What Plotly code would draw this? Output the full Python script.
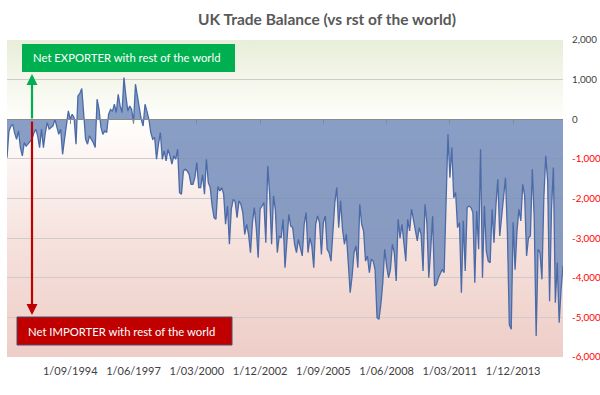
import base64
import pandas as pd
import plotly.graph_objects as go

# ---------------- data ----------------
start_month = "1991-12-01"
trade_balance = [
    -970, -300, -180, -130, -350, -505, -295, -715, -925, -590, -680, -620,
    -550, -505, -350, -250, -420, -715, -250, -715, -335, -85, -250, -210,
    -170, 0, -170, -380, -250, -885, -505, -85, 210, 0, 125, 40,
    -630, 590, 650, 775, 0, -505, -630, -420, -505, -590, -715, 505,
    250, -200, -380, -295, -335, 125, 250, 200, 380, 170, 630, 335,
    170, 1050, 590, 210, 335, 250, -85, 885, 590, 250, 0, -170,
    380, 200, 0, -335, -505, -460, -1010, -630, -335, -1010, -800, -1050,
    -760, -925, -1135, -925, -1010, -760, -1850, -1890, -1305, -1260, -1305, -1390,
    -1640, -1640, -1475, -1095, -1725, -1725, -1400, -1890, -1010, -1600, -1725, -2190,
    -2485, -2525, -1700, -1810, -1725, -1890, -2650, -2190, -3155, -2270, -2020, -2080,
    -2485, -2060, -2145, -2355, -2905, -2650, -2905, -3365, -2610, -2230, -2735, -3495,
    -2270, -2190, -2105, -3115, -1180, -1890, -3155, -1935, -2300, -3365, -2945, -2990,
    -2525, -3745, -2945, -2400, -2695, -2735, -3155, -3365, -3030, -3280, -3450, -2650,
    -2355, -3365, -2990, -3200, -3745, -2650, -2440, -2610, -3410, -2610, -2440, -3280,
    -3365, -3580, -2780, -2100, -1725, -2735, -2060, -2780, -3155, -2900, -3620, -4375,
    -3955, -3365, -3200, -3745, -2145, -2650, -2820, -3580, -3450, -3870, -3535, -3580,
    -3800, -5010, -5050, -4670, -4125, -3280, -3700, -4000, -3790, -3155, -3365, -4080,
    -2525, -3000, -2650, -3115, -3580, -2525, -2820, -2270, -2525, -2735, -3070, -2735,
    -2905, -3830, -2145, -2610, -4000, -3280, -2450, -4210, -4170, -4000, -3900, -3790,
    -3870, -2100, -380, -1475, -715, -1980, -1850, -2735, -2610, -4375, -2565, -3830,
    -2230, -2190, -2230, -2355, -4125, -2315, -3280, -760, -4000, -2190, -3325, -3580,
    -3620, -2270, -3115, -2190, -1515, -2945, -2440, -1850, -1475, -2860, -5180, -5300,
    -2600, -3800, -2820, -2270, -2565, -1640, -1935, -3450, -2990, -2945, -1260, -2525,
    -5470, -3280, -3365, -4040, -2000, -925, -1555, -4590, -2270, -1220, -4630, -3620,
    -5135, -4290, -3700,
]
x_tick_labels = ["1/09/1994", "1/06/1997", "1/03/2000", "1/12/2002",
                 "1/09/2005", "1/06/2008", "1/03/2011", "1/12/2013"]
y_tick_values = [2000, 1000, 0, -1000, -2000, -3000, -4000, -5000, -6000]

title_text = "UK Trade Balance (vs rst of the world)"
exporter_text = "Net EXPORTER with rest of the world"
importer_text = "Net IMPORTER with rest of the world"

months = pd.date_range(start_month, periods=len(trade_balance), freq="MS")
month_labels = [f"{d.day}/{d.month:02d}/{d.year}" for d in months]

y_tick_text = []
for v in y_tick_values:
    s = f"{v:,}"
    if v < 0:
        s = f"<span style='color:#ff0000'>{s}</span>"
    y_tick_text.append(s)

# ---------------- layout helpers ----------------
W, H = 600, 395
PL, PR, PT, PB = 7, 563, 40, 357


def px(x):
    return (x - PL) / (PR - PL)


def py(y):
    return (PB - y) / (PB - PT)


FONT = "Lato, Carlito, Calibri, sans-serif"

# background gradient (green top -> white at 0 -> pink bottom)
svg = (
    "<svg xmlns='http://www.w3.org/2000/svg' width='100' height='100' preserveAspectRatio='none'>"
    "<defs><linearGradient id='g' x1='0' y1='0' x2='0' y2='1'>"
    "<stop offset='0' stop-color='#e8eed8'/>"
    "<stop offset='0.125' stop-color='#f4f6ea'/>"
    "<stop offset='0.25' stop-color='#fefefb'/>"
    "<stop offset='0.375' stop-color='#fcf5f3'/>"
    "<stop offset='0.625' stop-color='#f6e2dd'/>"
    "<stop offset='1' stop-color='#eecdc7'/>"
    "</linearGradient></defs>"
    "<rect width='100' height='100' fill='url(#g)'/></svg>"
)
bg_uri = "data:image/svg+xml;base64," + base64.b64encode(svg.encode()).decode()

fig = go.Figure()

fig.add_trace(go.Scatter(
    x=month_labels, y=trade_balance, mode="lines", fill="tozeroy",
    fillcolor="rgba(118,142,188,0.86)",
    line=dict(color="#4a6aa8", width=1.3),
    hoverinfo="skip", showlegend=False,
))
# helper trace for the zero axis (carries the tick marks)
fig.add_trace(go.Scatter(
    x=month_labels, y=trade_balance, mode="lines", xaxis="x2",
    line=dict(width=0), opacity=0, hoverinfo="skip", showlegend=False,
))

fig.update_layout(
    width=W, height=H,
    margin=dict(l=PL, r=W - PR, t=PT, b=H - PB, pad=0, autoexpand=False),
    paper_bgcolor="white", plot_bgcolor="white",
    font=dict(family=FONT, color="#404040", size=11),
    title=dict(text=title_text, x=327 / W, xanchor="center", xref="container",
               y=1 - 20 / H, yanchor="middle", yref="container", automargin=False,
               font=dict(family=FONT, size=15.5, color="#595959", weight="bold")),
    xaxis=dict(type="category", range=[0, len(trade_balance) - 1], automargin=False,
               showgrid=False, showline=False, ticks="", zeroline=False,
               tickmode="array", tickvals=x_tick_labels, ticktext=x_tick_labels,
               tickfont=dict(size=11, color="#404040"), tickangle=0,
               ticklabelstandoff=6),
    xaxis2=dict(type="category", matches="x", overlaying="x", anchor="free",
                position=0.75, side="bottom", showline=True, automargin=False,
                linecolor="#8a8a8a", linewidth=1, ticks="outside", ticklen=4,
                tickcolor="#8a8a8a", tickmode="array", tickvals=x_tick_labels,
                showticklabels=False, showgrid=False, zeroline=False),
    yaxis=dict(range=[-6000, 2000], side="right", showgrid=True, automargin=False,
               gridcolor="#cfcacd", gridwidth=1, zeroline=False, showline=False,
               ticks="", tickmode="array", tickvals=y_tick_values,
               ticktext=y_tick_text, tickfont=dict(size=9.8, color="#404040"),
               ticklabelstandoff=8),
    images=[dict(source=bg_uri, xref="paper", yref="paper", x=0, y=1,
                 sizex=1, sizey=1, sizing="stretch", layer="below",
                 xanchor="left", yanchor="top")],
    shapes=[
        dict(type="rect", xref="paper", yref="paper",
             x0=px(22), x1=px(235), y0=py(72), y1=py(44),
             fillcolor="#00b050", line=dict(width=0), layer="above"),
        dict(type="rect", xref="paper", yref="paper",
             x0=px(17), x1=px(232), y0=py(345), y1=py(317),
             fillcolor="#c00000", line=dict(width=1, color="#4f4a6a"),
             layer="above"),
    ],
    annotations=[
        dict(text=exporter_text, xref="paper", yref="paper", x=px(31), y=py(58),
             xanchor="left", yanchor="middle", showarrow=False,
             font=dict(family=FONT, size=11.3, color="white")),
        dict(text=importer_text, xref="paper", yref="paper", x=px(26), y=py(331),
             xanchor="left", yanchor="middle", showarrow=False,
             font=dict(family=FONT, size=11.3, color="white")),
        dict(text="", xref="paper", yref="paper", x=px(32), y=py(74),
             ax=0, ay=46, showarrow=True, arrowhead=2, arrowsize=1,
             arrowwidth=2.2, arrowcolor="#00b050"),
        dict(text="", xref="paper", yref="paper", x=px(32), y=py(315),
             ax=0, ay=-195, showarrow=True, arrowhead=2, arrowsize=1,
             arrowwidth=2.2, arrowcolor="#c00000"),
    ],
)

fig.write_html(
    "out.html",
    config={"displayModeBar": False},
    post_script="document.body.style.margin='0';document.body.style.padding='0';",
)
